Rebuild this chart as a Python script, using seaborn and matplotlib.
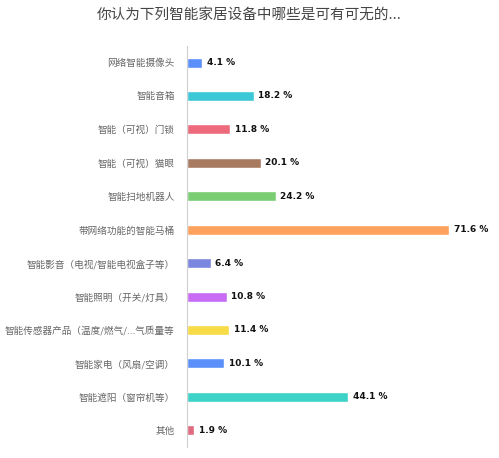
import pandas as pd
import matplotlib.pyplot as plt
import seaborn as sns

categories = [
    "网络智能摄像头",
    "智能音箱",
    "智能（可视）门锁",
    "智能（可视）猫眼",
    "智能扫地机器人",
    "带网络功能的智能马桶",
    "智能影音（电视/智能电视盒子等）",
    "智能照明（开关/灯具）",
    "智能传感器产品（温度/燃气/...气质量等",
    "智能家电（风扇/空调）",
    "智能遮阳（窗帘机等）",
    "其他",
]
values = [4.1, 18.2, 11.8, 20.1, 24.2, 71.6, 6.4, 10.8, 11.4, 10.1, 44.1, 1.9]
colors = [
    "#5b8ff9", "#3cc8d6", "#ed6a7c", "#a87a5f", "#7acd72", "#ffa15e",
    "#7b86de", "#c86cf5", "#f7dc48", "#5b8ff9", "#3dd2c8", "#e06b80",
]

df = pd.DataFrame({"category": categories, "value": values})

sns.set_style("white")
plt.rcParams["font.family"] = ["Noto Sans CJK SC", "DejaVu Sans"]

fig = plt.figure(figsize=(4.99, 4.58), dpi=100)
ax = fig.add_axes([0.375, 0.024, 0.607, 0.876])

sns.barplot(data=df, x="value", y="category", hue="category",
            palette=colors, saturation=1, legend=False, width=0.3,
            orient="h", ax=ax)

ax.set_xlim(0, 82.8)
ax.set_ylim(len(categories) - 0.5, -0.5)

for i, v in enumerate(values):
    ax.text(v + 1.3, i, f"{v} %", va="center", ha="left",
            fontsize=6.5, fontweight="bold", color="#111111",
            family="DejaVu Sans")

ax.set_xlabel("")
ax.set_ylabel("")
ax.set_xticks([])
ax.tick_params(axis="y", which="major", length=0, pad=9,
               labelsize=6.9, labelcolor="#666666")
ax.set_yticks([i - 0.5 for i in range(len(categories) + 1)], minor=True)
ax.tick_params(axis="y", which="minor", length=5, color="#dddddd", width=0.8)

for s in ["top", "right", "bottom"]:
    ax.spines[s].set_visible(False)
ax.spines["left"].set_color("#d0d0d0")
ax.spines["left"].set_linewidth(0.8)

fig.text(0.5, 0.965, "你认为下列智能家居设备中哪些是可有可无的...",
         ha="center", va="center", fontsize=10.5, color="#444444")

fig.savefig("out.png", dpi=100)
